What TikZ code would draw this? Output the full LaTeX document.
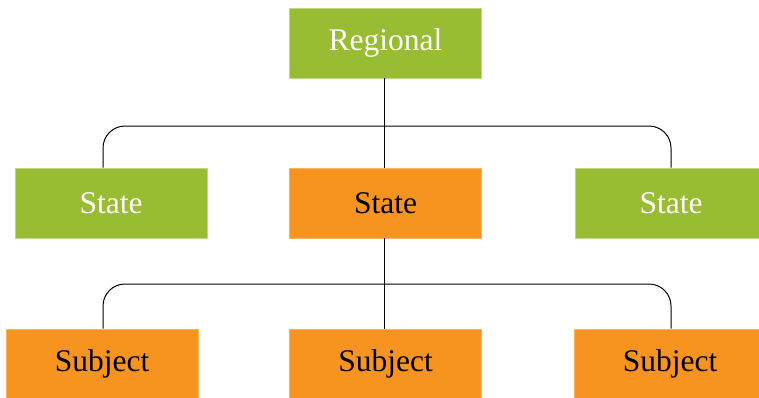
\documentclass[tikz,border=0pt]{standalone}
\usepackage{fontspec}
\setmainfont{Liberation Serif}
\definecolor{leafgreen}{HTML}{98BD33}
\definecolor{deeporange}{HTML}{F7941F}
\begin{document}
\begin{tikzpicture}[x=1pt, y=-1pt,
  font=\fontsize{31.5}{36}\selectfont,
  box/.style={rectangle, minimum width=192pt, minimum height=70pt,
              inner sep=0pt, fill=#1},
  gbox/.style={box=leafgreen, draw=leafgreen!60!white, line width=0.8pt, text=white},
  obox/.style={box=deeporange, draw=deeporange!70!white, line width=0.8pt, text=black},
  conn/.style={draw, line width=1pt, rounded corners=22pt}
]
  \useasboundingbox (0,0) rectangle (759,397);
  \node[gbox] (reg) at (385.5,43)  {Regional};
  \node[gbox] (stL) at (111,203)   {State};
  \node[obox] (stM) at (385.5,203) {State};
  \node[gbox] (stR) at (671,203)   {State};
  \node[obox] (sbL) at (102,364)   {Subject};
  \node[obox] (sbM) at (385.5,364) {Subject};
  \node[obox] (sbR) at (670,364)   {Subject};
  \coordinate (bus1) at (384,126);
  \coordinate (bus2) at (384,284);
  \draw[conn] (reg.south -| bus1) -- (stM.north -| bus1);
  \draw[conn] ([xshift=-8pt]stL.north) |- (bus1) -| ([xshift=0pt]stR.north);
  \draw[conn] (stM.south -| bus2) -- (sbM.north -| bus2);
  \draw[conn] ([xshift=1pt]sbL.north) |- (bus2) -| ([xshift=1pt]sbR.north);
\end{tikzpicture}
\end{document}
